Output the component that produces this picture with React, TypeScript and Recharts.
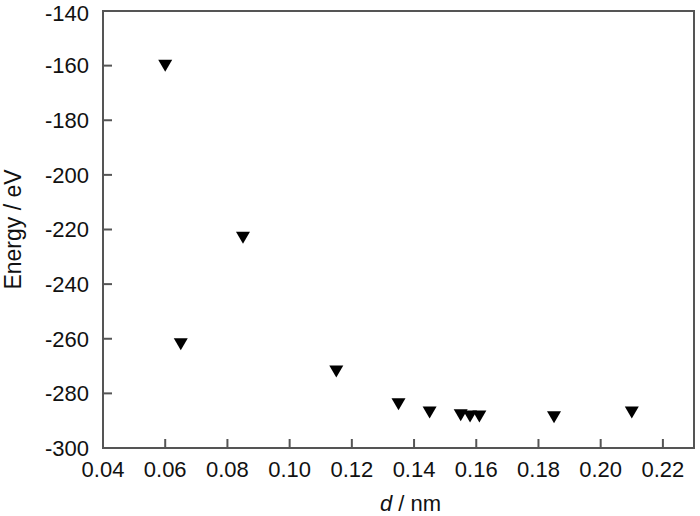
import { ScatterChart, Scatter, XAxis, YAxis, ReferenceArea } from 'recharts'

const dValues = [0.06, 0.065, 0.085, 0.115, 0.135, 0.145, 0.155, 0.158, 0.161, 0.185, 0.21]
const energyValues = [-160, -262, -223, -272, -284, -287, -288, -288.5, -288.5, -288.7, -287]
const xTicks = [0.04, 0.06, 0.08, 0.1, 0.12, 0.14, 0.16, 0.18, 0.2, 0.22]
const yTicks = [-300, -280, -260, -240, -220, -200, -180, -160, -140]

const points = dValues.map((d, i) => ({ d, energy: energyValues[i] }))

const axisColor = '#555'
const font = '"Liberation Sans", Arial, sans-serif'

function DownTriangle(props: any) {
  const { cx, cy } = props
  if (cx == null || cy == null) return null
  const w = 7
  const h = 12
  return (
    <polygon
      points={`${cx - w},${cy - h / 2} ${cx + w},${cy - h / 2} ${cx},${cy + h / 2}`}
      fill="#000"
    />
  )
}

export default function App() {
  return (
    <div style={{ position: 'absolute', left: 0, top: 0, width: 700, height: 516, background: '#fff', fontFamily: font }}>
      <ScatterChart width={700} height={516} margin={{ top: 11, right: 6, bottom: 0, left: 43 }}>
        <XAxis
          type="number"
          dataKey="d"
          domain={[0.04, 0.23]}
          ticks={xTicks}
          allowDataOverflow
          height={68}
          tickFormatter={(v: number) => v.toFixed(2)}
          stroke={axisColor}
          strokeWidth={2}
          tickSize={-9}
          tickMargin={22}
          tickLine={{ stroke: axisColor, strokeWidth: 2 }}
          tick={{ fill: '#111', fontSize: 22, fontFamily: font }}
          label={{
            content: (p: any) => {
              const vb = p.viewBox
              return (
                <text x={vb.x + vb.width / 2 + 12} y={vb.y + 63} textAnchor="middle" fontSize={22} fill="#111" fontFamily={font}>
                  <tspan fontStyle="italic">d</tspan>
                  <tspan> / nm</tspan>
                </text>
              )
            },
          }}
        />
        <YAxis
          type="number"
          dataKey="energy"
          domain={[-300, -140]}
          ticks={yTicks}
          allowDataOverflow
          width={60}
          stroke={axisColor}
          strokeWidth={2}
          tickSize={-9}
          tickMargin={23}
          tickLine={{ stroke: axisColor, strokeWidth: 2 }}
          tick={{ fill: '#111', fontSize: 22, fontFamily: font }}
          label={{
            content: (p: any) => {
              const vb = p.viewBox
              const cy = vb.y + vb.height / 2
              return (
                <text x={13} y={cy} transform={`rotate(-90, 13, ${cy})`} textAnchor="middle" dominantBaseline="central" fontSize={23} fill="#111" fontFamily={font}>
                  Energy / eV
                </text>
              )
            },
          }}
        />
        <ReferenceArea x1={0.04} x2={0.23} y1={-300} y2={-140} fill="none" stroke={axisColor} strokeWidth={2} fillOpacity={0} />
        <Scatter data={points} shape={DownTriangle} isAnimationActive={false} />
      </ScatterChart>
    </div>
  )
}
